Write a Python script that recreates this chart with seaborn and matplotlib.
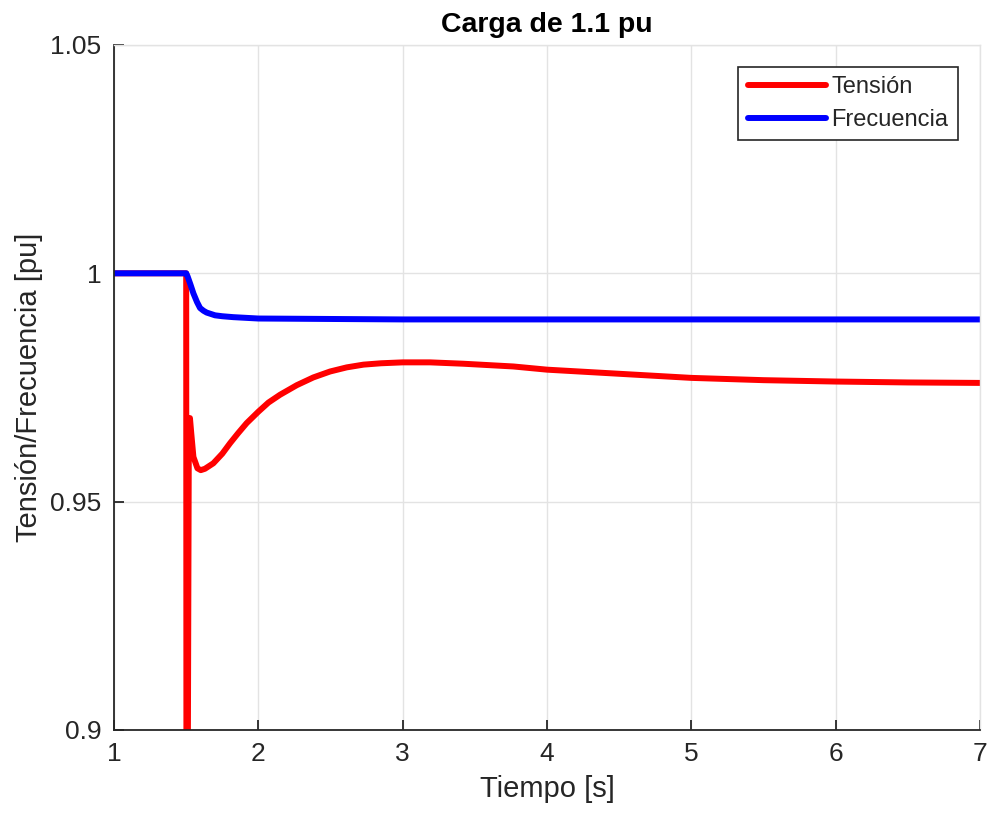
import numpy as np
import pandas as pd
import matplotlib
matplotlib.use("Agg")
import matplotlib.pyplot as plt
import seaborn as sns

# valores
t_tension = [1.0, 1.5, 1.502, 1.508, 1.518, 1.526, 1.535, 1.55, 1.578, 1.601, 1.63, 1.688, 1.75,
             1.804, 1.86, 1.919, 2.0, 2.07, 2.15, 2.266, 2.381, 2.497, 2.612, 2.728, 2.85, 3.0,
             3.19, 3.42, 3.767, 4.0, 4.5, 5.0, 5.5, 6.0, 6.5, 7.0]
v_tension = [1.0, 1.0, 0.86, 0.86, 0.962, 0.9683, 0.965, 0.9598, 0.9573, 0.9569, 0.9572, 0.9584,
             0.9605, 0.9628, 0.9650, 0.9672, 0.9697, 0.9717, 0.9734, 0.9755, 0.9772, 0.9785,
             0.9794, 0.9800, 0.9803, 0.9805, 0.9805, 0.9802, 0.9796, 0.9789, 0.9780, 0.9771,
             0.9766, 0.9763, 0.9761, 0.9760]

t_frec = [1.0, 1.5, 1.51, 1.53, 1.55, 1.575, 1.596, 1.62, 1.642, 1.7, 1.75, 1.826, 2.0, 2.5,
          3.0, 4.0, 5.0, 6.0, 7.0]
v_frec = [1.0, 1.0, 0.9993, 0.9975, 0.9956, 0.9937, 0.9924, 0.9918, 0.9914, 0.9908, 0.9906,
          0.9904, 0.9901, 0.9900, 0.9899, 0.9899, 0.9899, 0.9899, 0.9899]

x_ticks = [1, 2, 3, 4, 5, 6, 7]
y_ticks = [0.9, 0.95, 1.0, 1.05]
y_labels = ["0.9", "0.95", "1", "1.05"]

df = pd.concat([
    pd.DataFrame({"t": t_tension, "v": v_tension, "serie": "Tensión"}),
    pd.DataFrame({"t": t_frec, "v": v_frec, "serie": "Frecuencia"}),
])

sns.set_theme(style="whitegrid")
plt.rcParams['font.family'] = ['Liberation Sans', 'DejaVu Sans']
plt.rcParams['xtick.direction'] = 'in'
plt.rcParams['ytick.direction'] = 'in'

fig = plt.figure(figsize=(9.89, 8.16), dpi=100)
ax = fig.add_axes([0.1153, 0.1054, 0.8756, 0.8395])

sns.lineplot(data=df, x="t", y="v", hue="serie", palette={"Tensión": "#ff0000", "Frecuencia": "#0000ff"},
             linewidth=4.3, sort=False, estimator=None, ax=ax)

ax.set_xlim(1, 7)
ax.set_ylim(0.9, 1.05)
ax.set_xticks(x_ticks)
ax.set_yticks(y_ticks)
ax.set_yticklabels(y_labels)
ax.set_facecolor("white")
ax.grid(True, color="#e3e3e3", linewidth=1)
for side in ["left", "bottom"]:
    ax.spines[side].set_color("#262626")
    ax.spines[side].set_linewidth(1.3)
for side in ["top", "right"]:
    ax.spines[side].set_color("#e3e3e3")
    ax.spines[side].set_linewidth(1)
ax.tick_params(direction="in", length=7, width=1.3, labelsize=19, colors="#262626", pad=9,
               top=False, right=False, bottom=True, left=True)

ax.set_xlabel("Tiempo [s]", fontsize=21, color="#262626", labelpad=6)
ax.set_ylabel("Tensión/Frecuencia [pu]", fontsize=21, color="#262626", labelpad=5)
ax.set_title("Carga de 1.1 pu", fontsize=20.5, fontweight="bold", color="black", pad=9)

leg = ax.legend(loc="upper right", fontsize=17, frameon=True, fancybox=False,
                edgecolor="#262626", handlelength=3.3, handletextpad=0.25,
                borderpad=0.4, labelspacing=0.45, borderaxespad=0,
                bbox_to_anchor=(0.9746, 0.9679))
leg.get_frame().set_linewidth(1.2)
leg.get_frame().set_alpha(1)

fig.savefig("out.png", dpi=100)
